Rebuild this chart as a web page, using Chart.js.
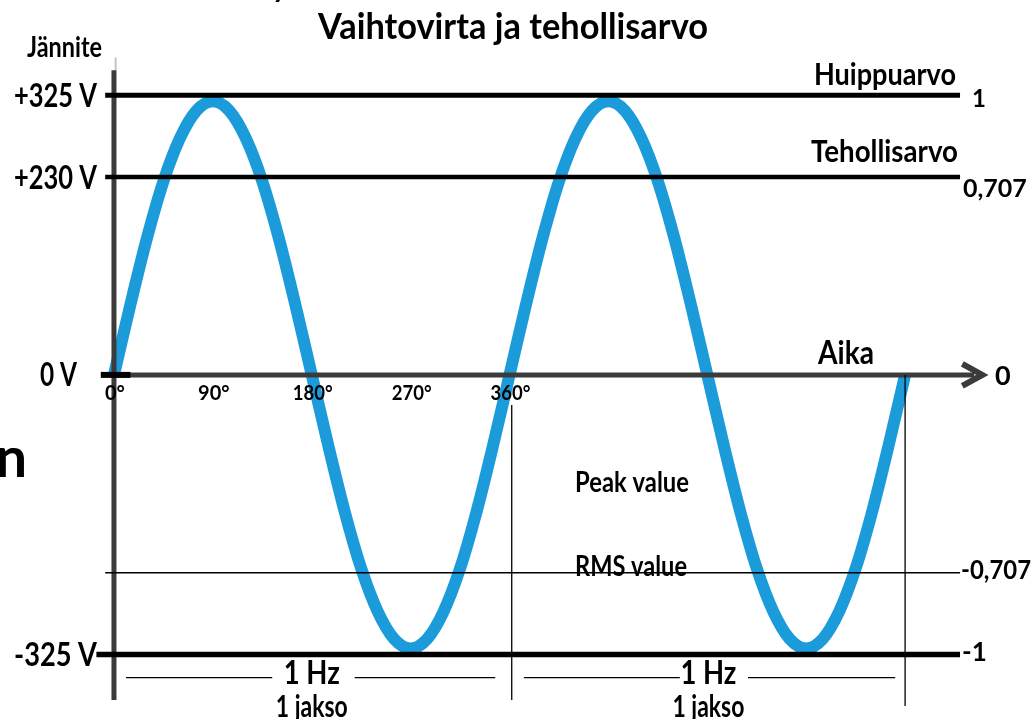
<!DOCTYPE html>
<html>
<head>
<meta charset="utf-8">
<script src="https://cdn.jsdelivr.net/npm/chart.js@4"></script>
<style>
  html, body { margin: 0; padding: 0; background: #fff; overflow: hidden; }
  canvas { display: block; }
</style>
</head>
<body>
<canvas id="chart" width="1031" height="719"></canvas>
<script>
// two full cycles, phase angle in degrees, voltage in volts
const angles = [0, 15, 30, 45, 60, 75, 90, 105, 120, 135, 150, 165, 180,
  195, 210, 225, 240, 255, 270, 285, 300, 315, 330, 345, 360,
  375, 390, 405, 420, 435, 450, 465, 480, 495, 510, 525, 540,
  555, 570, 585, 600, 615, 630, 645, 660, 675, 690, 705, 720];
const voltage = [0, 82, 159, 225, 275, 307, 318, 307, 275, 225, 159, 82, 0,
  -82, -159, -225, -275, -307, -318, -307, -275, -225, -159, -82, 0,
  82, 159, 225, 275, 307, 318, 307, 275, 225, 159, 82, 0,
  -82, -159, -225, -275, -307, -318, -307, -275, -225, -159, -82, 0];

const levels = [325, 230, -230, -325];
const levelLabels = ['+325 V', '+230 V', null, '-325 V'];
const ratioLabels = ['1', '0,707', '-0,707', '-1'];
const degreeTicks = [0, 90, 180, 270, 360];
const cycleEnds = [360, 720];

const BLUE = '#1c9bdb';
const AXIS = '#3b3b3b';

function seg(x0, y0, x1, y1, width, color, order) {
  return {
    data: [{ x: x0, y: y0 }, { x: x1, y: y1 }],
    borderColor: color,
    borderWidth: width,
    pointRadius: 0,
    order: order === undefined ? 1 : order
  };
}

const datasets = [];
datasets.push({
  data: angles.map((a, i) => ({ x: a, y: voltage[i] })),
  borderColor: BLUE,
  borderWidth: 12,
  pointRadius: 0,
  cubicInterpolationMode: 'monotone',
  order: 10
});
// reference levels
datasets.push(seg(-8, levels[0], 770, levels[0], 5, '#000'));
datasets.push(seg(-8, levels[1], 770, levels[1], 4.5, '#000'));
datasets.push(seg(-8, levels[2], 770, levels[2], 1.5, '#000'));
datasets.push(seg(-16, levels[3], 770, levels[3], 5.5, '#000'));
// time axis and voltage axis
datasets.push(seg(0, 0, 783, 0, 5, AXIS, 2));
datasets.push(seg(-12, 0, 15, 0, 6, '#000', 0));
datasets.push(seg(0, 354, 0, -378, 5, AXIS, 2));
datasets.push(seg(1.5, 369, 1.5, 354, 2, '#c4c4c4', 2));
// period markers
datasets.push(seg(cycleEnds[0] + 2, -35, cycleEnds[0] + 2, -378, 1.3, '#000'));
datasets.push(seg(cycleEnds[1], 0, cycleEnds[1], -385, 1.3, '#000'));
[[11, 144], [219, 347], [373, 515], [577, 711]].forEach(s => {
  datasets.push(seg(s[0], -352, s[1], -352, 1.3, '#000'));
});

const FONT = 'Lato, "Open Sans", sans-serif';

function txt(ctx, s, x, y, size, align, maxW) {
  ctx.font = 'bold ' + size + 'px ' + FONT;
  ctx.textAlign = align || 'left';
  ctx.textBaseline = 'alphabetic';
  ctx.fillStyle = '#000';
  if (maxW) ctx.fillText(s, x, y, maxW); else ctx.fillText(s, x, y);
}

const labelsPlugin = {
  id: 'labels',
  afterDatasetsDraw(chart) {
    const ctx = chart.ctx;
    const xs = chart.scales.x, ys = chart.scales.y;
    ctx.save();

    // arrow head on the time axis
    const ax = xs.getPixelForValue(783), ay = ys.getPixelForValue(0);
    ctx.strokeStyle = AXIS;
    ctx.lineWidth = 6;
    ctx.lineJoin = 'miter';
    ctx.beginPath();
    ctx.moveTo(ax - 12, ay - 11);
    ctx.lineTo(ax + 8, ay);
    ctx.lineTo(ax - 12, ay + 11);
    ctx.stroke();

    txt(ctx, 'Vaihtovirta ja tehollisarvo', 513, 39, 36, 'center', 390);
    txt(ctx, 'y', 272, -3, 30, 'left');
    txt(ctx, 'Jännite', 27, 57, 28, 'left', 75);

    levels.forEach((v, i) => {
      const y = ys.getPixelForValue(v);
      if (levelLabels[i]) txt(ctx, levelLabels[i], 97, y + 12, 33, 'right', 83);
    });
    txt(ctx, '0 V', 77, ys.getPixelForValue(0) + 11, 33, 'right', 37);

    degreeTicks.forEach(d => {
      txt(ctx, d + '°', xs.getPixelForValue(d) + 1, ys.getPixelForValue(0) + 25, 20, 'center', d ? 40 : 20);
    });

    txt(ctx, 'Huippuarvo', 956, 85, 30, 'right', 142);
    txt(ctx, 'Tehollisarvo', 958, 162, 30, 'right', 147);
    txt(ctx, ratioLabels[0], 972, ys.getPixelForValue(levels[0]) + 12, 24, 'left');
    txt(ctx, ratioLabels[1], 963, ys.getPixelForValue(levels[1]) + 20, 25, 'left', 67);
    txt(ctx, ratioLabels[2], 961, ys.getPixelForValue(levels[2]) + 6, 26, 'left', 70);
    txt(ctx, ratioLabels[3], 962, ys.getPixelForValue(levels[3]) + 7, 26, 'left');
    txt(ctx, 'Aika', 846, 364, 32, 'center', 56);
    txt(ctx, '0', 995, ys.getPixelForValue(0) + 10, 27, 'left');

    txt(ctx, 'Peak value', 575, 492, 28, 'left', 114);
    txt(ctx, 'RMS value', 575, 576, 28, 'left', 112);

    [180, 541].forEach(d => {
      const cx = xs.getPixelForValue(d);
      txt(ctx, '1 Hz', cx, 684, 32, 'center', 56);
      txt(ctx, '1 jakso', cx, 717, 31, 'center', 72);
    });

    txt(ctx, 'n', 27, 477, 56, 'right');
    ctx.restore();
  }
};

new Chart(document.getElementById('chart'), {
  type: 'line',
  data: { datasets: datasets },
  options: {
    responsive: false,
    animation: false,
    layout: { padding: { left: 92, right: 38, top: 48, bottom: 0 } },
    plugins: { legend: { display: false }, tooltip: { enabled: false } },
    scales: {
      x: { type: 'linear', min: -20, max: 800, display: false },
      y: { type: 'linear', min: -400, max: 380, display: false }
    }
  },
  plugins: [labelsPlugin]
});
</script>
</body>
</html>
